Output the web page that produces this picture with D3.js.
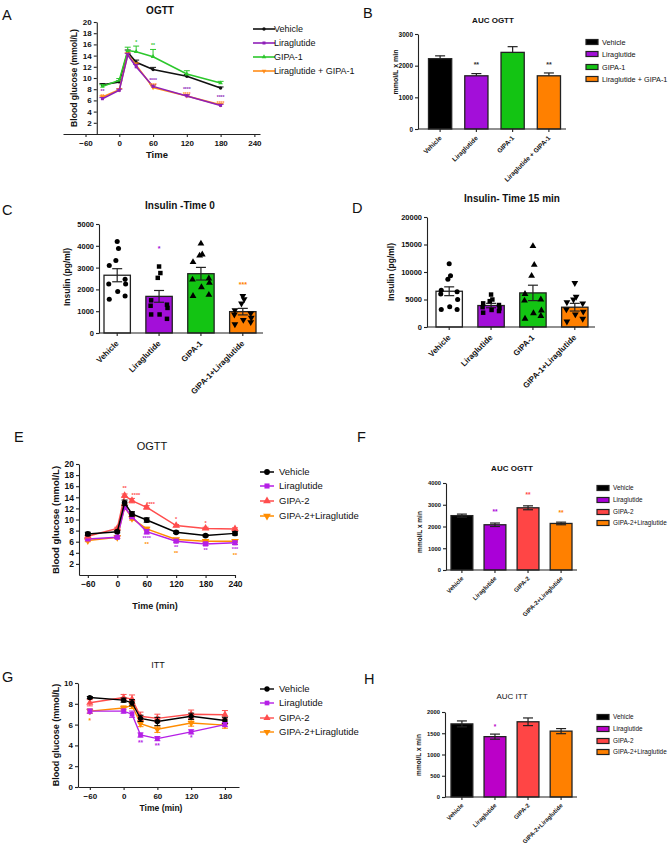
<!DOCTYPE html>
<html>
<head>
<meta charset="utf-8">
<script src="https://cdn.jsdelivr.net/npm/d3@7"></script>
<style>
  body { margin: 0; background: #fff; }
</style>
</head>
<body>
<div id="fig"></div>
<script>
// ---------- data ----------
const groups1 = ['Vehicle', 'Liraglutide', 'GIPA-1', 'Liraglutide + GIPA-1'];
const groups1Insulin = ['Vehicle', 'Liraglutide', 'GIPA-1', 'GIPA-1+Liraglutide'];
const groups2 = ['Vehicle', 'Liraglutide', 'GIPA-2', 'GIPA-2+Liraglutide'];

// A: OGTT (GIPA-1)
const timesA = [-30, 0, 15, 30, 60, 120, 180];
const vehicleA = [8.8, 9.3, 14.6, 12.8, 11.5, 10.3, 8.2];
const liraA = [6.3, 7.8, 14.1, 12.0, 8.5, 6.8, 5.1];
const gipa1A = [8.5, 9.6, 14.9, 14.7, 13.8, 10.7, 9.1];
const comboA = [6.6, 7.9, 14.2, 12.3, 8.3, 6.8, 5.2];
const vehicleSemA = [0.2, 0.2, 0.4, 0.4, 0.4, 0.3, 0.2];
const liraSemA = [0.2, 0.2, 0.3, 0.4, 0.3, 0.2, 0.2];
const gipa1SemA = [0.3, 0.3, 0.6, 1.0, 1.3, 0.6, 0.3];
const comboSemA = [0.2, 0.2, 0.3, 0.4, 0.3, 0.2, 0.2];
const starsA = [
  [1, -30, 7.8, '**'], [3, -30, 6.9, '**'],
  [2, 30, 16.6, '*'], [2, 60, 16.0, '**'],
  [1, 60, 9.9, '****'], [3, 60, 9.0, '****'],
  [1, 120, 8.3, '****'], [3, 120, 7.4, '****'],
  [1, 180, 6.7, '****'], [3, 180, 5.8, '****']
];

// B: AUC OGTT (GIPA-1)
const aucB = [2220, 1680, 2420, 1680];
const aucSemB = [90, 70, 180, 90];
const starsB = [[1, 2050, '**'], [3, 2050, '**']];

// C: insulin time 0
const insulinC = [
  [4200, 3880, 3330, 3100, 2460, 2250, 2250, 1900, 1700, 1550],
  [3050, 2750, 2530, 1500, 1300, 1250, 1150, 850, 650, 850],
  [4100, 3600, 3550, 3250, 2500, 2450, 2300, 2100, 1750, 1700],
  [1700, 1550, 1350, 1050, 900, 850, 700, 600, 500, 400]
];
const meanC = [2650, 1680, 2720, 980];
const semC = [300, 270, 290, 150];
const starsC = [[1, 3900, '*'], [3, 2250, '***']];

// D: insulin time 15 min
const insulinD = [
  [11500, 9300, 8700, 6700, 6400, 6000, 5000, 3700, 3200, 3200],
  [5900, 5000, 4700, 4300, 4000, 3600, 3400, 3100, 2900, 2600],
  [14700, 11300, 9300, 6000, 5000, 4800, 3000, 2500, 2000, 1500],
  [8000, 5500, 5000, 4500, 4300, 3200, 2800, 2300, 1500, 1000]
];
const meanD = [6500, 3900, 6200, 3600];
const semD = [800, 400, 1400, 700];

// E: OGTT (GIPA-2)
const timesE = [-60, 0, 15, 30, 60, 120, 180, 240];
const vehicleE = [7.4, 7.8, 13.0, 11.0, 9.9, 7.7, 7.1, 7.5];
const liraE = [6.5, 6.8, 12.2, 10.5, 7.8, 6.1, 5.6, 5.8];
const gipa2E = [7.0, 8.4, 14.3, 13.4, 12.2, 8.9, 8.4, 8.3];
const comboE = [6.2, 6.8, 12.3, 10.2, 8.3, 6.4, 6.1, 6.1];
const vehicleSemE = [0.3, 0.2, 0.5, 0.4, 0.4, 0.2, 0.2, 0.3];
const liraSemE = [0.2, 0.2, 0.4, 0.3, 0.4, 0.2, 0.3, 0.3];
const gipa2SemE = [0.2, 0.2, 0.3, 0.4, 0.3, 0.2, 0.2, 0.2];
const comboSemE = [0.2, 0.2, 0.3, 0.3, 0.3, 0.2, 0.2, 0.2];
const starsE = [
  [2, 15, 15.8, '**'], [2, 38, 14.6, '****'], [2, 68, 13.0, '****'],
  [2, 120, 10.2, '*'], [2, 180, 9.6, '*'],
  [1, 60, 6.9, '****'], [3, 60, 5.8, '**'],
  [1, 120, 5.2, '**'], [3, 120, 4.1, '**'],
  [1, 180, 4.6, '**'],
  [1, 240, 4.9, '***'], [3, 240, 3.8, '**']
];

// F: AUC OGTT (GIPA-2)
const aucF = [2500, 2080, 2860, 2140];
const aucSemF = [70, 80, 90, 60];
const starsF = [[1, 2700, '**'], [2, 3500, '**'], [3, 2650, '**']];

// G: ITT
const timesG = [-60, 0, 15, 30, 60, 120, 180];
const vehicleG = [8.6, 8.35, 8.1, 6.6, 6.3, 6.8, 6.4];
const liraG = [7.3, 7.3, 7.0, 5.0, 4.65, 5.3, 6.0];
const gipa2G = [8.1, 8.6, 8.45, 6.8, 6.6, 7.0, 6.95];
const comboG = [7.3, 7.6, 7.85, 6.1, 5.55, 6.15, 5.95];
const vehicleSemG = [0.1, 0.2, 0.3, 0.3, 0.4, 0.3, 0.3];
const liraSemG = [0.2, 0.2, 0.3, 0.2, 0.2, 0.2, 0.2];
const gipa2SemG = [0.3, 0.3, 0.4, 0.4, 0.4, 0.4, 0.4];
const comboSemG = [0.2, 0.2, 0.3, 0.3, 0.3, 0.3, 0.3];
const starsG = [
  [1, -60, 7.0, '*'], [3, -60, 6.4, '*'],
  [1, 30, 4.3, '**'], [1, 60, 4.0, '**'], [1, 120, 4.8, '*']
];

// H: AUC ITT
const aucH = [1720, 1420, 1770, 1550];
const aucSemH = [70, 60, 90, 60];
const starsH = [[1, 1680, '*']];

// ---------- styles ----------
const colA = ['#111111', '#8e1fb8', '#2cc72c', '#ff8c1a'];
const colB = ['#000000', '#a30fd9', '#13c413', '#ff8000'];
const colC = ['#ffffff', '#a30fd9', '#13c413', '#ff8000'];
const colE = ['#000000', '#b51fe6', '#ff4d4d', '#ff8c00'];
const colF = ['#000000', '#aa00d8', '#ff4545', '#ff8000'];
const colH = ['#000000', '#bb00c8', '#ff4545', '#ff8000'];
const shapes = ['circle', 'square', 'up', 'down'];
const jitter = [0, 0.05, -0.05, -0.3, 0.3, -0.32, 0.32, 0.02, 0.3, -0.3];

const svg = d3.select('#fig').append('svg')
  .attr('width', 671).attr('height', 849)
  .attr('font-family', "'Liberation Sans', Arial, sans-serif");

const symbols = { circle: d3.symbolCircle, square: d3.symbolSquare, up: d3.symbolTriangle, down: d3.symbolTriangle };
const fmt = d3.format('d');

function marker(g, shape, cx, cy, size, color) {
  g.append('path')
    .attr('d', d3.symbol(symbols[shape], size)())
    .attr('transform', `translate(${cx},${cy})${shape === 'down' ? ' rotate(180)' : ''}`)
    .attr('fill', color);
}

function text(g, x, y, str, size, opts = {}) {
  const t = g.append('text').attr('x', x).attr('y', y).text(str)
    .attr('font-size', size)
    .attr('font-weight', opts.bold ? 'bold' : 'normal')
    .attr('text-anchor', opts.anchor || 'middle')
    .attr('fill', opts.color || '#111');
  if (opts.rotate) t.attr('transform', `rotate(${opts.rotate},${x},${y})`);
  return t;
}

function styleAxis(sel, fs) {
  sel.attr('font-size', fs).attr('font-family', null).attr('font-weight', 'bold');
  sel.select('.domain').attr('stroke', '#222').attr('stroke-width', 1.1);
  sel.selectAll('.tick line').attr('stroke', '#222').attr('stroke-width', 1.1);
  sel.selectAll('.tick text').attr('fill', '#111');
}

function linePanel(o) {
  const g = svg.append('g');
  const x = d3.scaleLinear().domain(o.xDomain).range(o.xRange);
  const y = d3.scaleLinear().domain(o.yDomain).range(o.yRange);

  g.append('g')
    .attr('transform', `translate(0,${o.yRange[0]})`)
    .call(d3.axisBottom(x).tickValues(o.xTicks).tickFormat(fmt).tickSize(3).tickSizeOuter(0).tickPadding(3))
    .call(styleAxis, o.tickFont);
  g.append('g')
    .attr('transform', `translate(${x(o.yAxisAt)},0)`)
    .call(d3.axisLeft(y).tickValues(o.yTicks).tickFormat(fmt).tickSize(3).tickSizeOuter(0).tickPadding(2))
    .call(styleAxis, o.tickFont);

  const line = d3.line().x(d => x(d.t)).y(d => y(d.v));
  o.order.forEach(i => {
    const s = o.series[i];
    const pts = o.times.map((t, k) => ({ t, v: s.values[k], e: s.sem[k] }));
    pts.forEach(p => {
      const top = y(p.v + p.e), bot = o.semBoth ? y(p.v - p.e) : y(p.v);
      g.append('line').attr('x1', x(p.t)).attr('x2', x(p.t)).attr('y1', top).attr('y2', bot)
        .attr('stroke', s.color).attr('stroke-width', 1);
      [top].concat(o.semBoth ? [bot] : []).forEach(yy =>
        g.append('line').attr('x1', x(p.t) - 3).attr('x2', x(p.t) + 3).attr('y1', yy).attr('y2', yy)
          .attr('stroke', s.color).attr('stroke-width', 1));
    });
    g.append('path').datum(pts).attr('d', line).attr('fill', 'none')
      .attr('stroke', s.color).attr('stroke-width', o.lineWidth);
    pts.forEach(p => marker(g, s.shape, x(p.t), y(p.v), o.markerSize, s.color));
  });

  o.stars.forEach(([si, t, v, str]) =>
    text(g, x(t), y(v) + 3, str, o.starFont, { color: o.series[si].color, bold: true }));

  // legend
  o.series.forEach((s, i) => {
    const ly = o.legend.ys[i];
    g.append('line').attr('x1', o.legend.x).attr('x2', o.legend.x + o.legend.len)
      .attr('y1', ly).attr('y2', ly).attr('stroke', s.color).attr('stroke-width', o.lineWidth);
    marker(g, s.shape, o.legend.x + o.legend.len / 2, ly, o.legend.marker, s.color);
    text(g, o.legend.tx, ly + o.legend.font * 0.35, s.name, o.legend.font, { anchor: 'start' });
  });
  return g;
}

function bandAxis(g, x, y0, xStart, xEnd, labels, fs) {
  g.append('line').attr('x1', xStart).attr('x2', xEnd).attr('y1', y0).attr('y2', y0)
    .attr('stroke', '#222').attr('stroke-width', 1.1);
  x.domain().forEach((c, i) => {
    const cx = x(c) + x.bandwidth() / 2;
    g.append('line').attr('x1', cx).attr('x2', cx).attr('y1', y0).attr('y2', y0 + 3)
      .attr('stroke', '#222').attr('stroke-width', 1.1);
    text(g, cx + 2, y0 + fs + 3, labels[i], fs, { anchor: 'end', bold: true, rotate: -45 });
  });
}

function barPanel(o) {
  const g = svg.append('g');
  const x = d3.scaleBand().domain(o.labels).range(o.bandRange).paddingInner(o.pad).paddingOuter(0);
  const y = d3.scaleLinear().domain(o.yDomain).range(o.yRange);
  g.append('g').attr('transform', `translate(${o.axisX[0]},0)`)
    .call(d3.axisLeft(y).tickValues(o.yTicks).tickFormat(fmt).tickSize(3).tickSizeOuter(0).tickPadding(2))
    .call(styleAxis, o.tickFont);

  o.values.forEach((v, i) => {
    const c = o.labels[i];
    const cx = x(c) + x.bandwidth() / 2;
    g.append('rect').attr('x', x(c)).attr('y', y(v)).attr('width', x.bandwidth())
      .attr('height', y(0) - y(v)).attr('fill', o.colors[i]).attr('stroke', '#222').attr('stroke-width', 1.3);
    const top = y(v + o.sem[i]), bot = o.semBoth ? y(v - o.sem[i]) : y(v);
    g.append('line').attr('x1', cx).attr('x2', cx).attr('y1', top).attr('y2', bot)
      .attr('stroke', '#222').attr('stroke-width', 1.2);
    [top].concat(o.semBoth ? [bot] : []).forEach(yy =>
      g.append('line').attr('x1', cx - o.cap).attr('x2', cx + o.cap).attr('y1', yy).attr('y2', yy)
        .attr('stroke', '#222').attr('stroke-width', 1.2));
  });

  if (o.points) {
    o.points.forEach((vals, i) => {
      const c = o.labels[i];
      const cx = x(c) + x.bandwidth() / 2;
      vals.forEach((v, k) =>
        marker(g, shapes[i], cx + jitter[k] * x.bandwidth(), y(v), o.pointSize, '#000'));
    });
  }

  o.stars.forEach(([i, v, str]) => {
    const c = o.labels[i];
    text(g, x(c) + x.bandwidth() / 2, y(v) + 3, str, o.starFont,
      { bold: true, color: o.starColors ? o.starColors[i] : '#333' });
  });

  bandAxis(g, x, o.yRange[0], o.axisX[0], o.axisX[1], o.axisLabels || o.labels, o.catFont);

  if (o.legend) {
    o.labels.forEach((name, i) => {
      const ly = o.legend.ys[i];
      g.append('rect').attr('x', o.legend.x).attr('y', ly - 2.5).attr('width', 12).attr('height', 5)
        .attr('fill', o.colors[i]).attr('stroke', '#222').attr('stroke-width', 1.2);
      text(g, o.legend.x + 16, ly + o.legend.font * 0.35, name, o.legend.font, { anchor: 'start' });
    });
  }
  return g;
}

// ---------- panels ----------
const seriesOf = (names, cols, vals, sems) =>
  names.map((name, i) => ({ name, color: cols[i], shape: shapes[i], values: vals[i], sem: sems[i] }));

// A
linePanel({
  times: timesA, xDomain: [-100, 250], xRange: [63, 260], yDomain: [0, 20], yRange: [134, 22],
  yAxisAt: -40, xTicks: [-60, 0, 60, 120, 180, 240], yTicks: [2, 4, 6, 8, 10, 12, 14, 16, 18, 20],
  series: seriesOf(groups1, colA, [vehicleA, liraA, gipa1A, comboA], [vehicleSemA, liraSemA, gipa1SemA, comboSemA]),
  order: [0, 2, 3, 1], semBoth: false, lineWidth: 1.6, markerSize: 9, tickFont: 8, starFont: 5,
  stars: starsA,
  legend: { x: 253, len: 22, tx: 274, ys: [29, 43, 57, 71], marker: 9, font: 9 }
});
text(svg, 160, 14, 'OGTT', 10, { bold: true });
text(svg, 77, 78, 'Blood glucose (mmol/L)', 8.6, { bold: true, rotate: -90 });
text(svg, 157, 158, 'Time', 9.5, { bold: true });

// B
barPanel({
  labels: groups1, values: aucB, sem: aucSemB, colors: colB, semBoth: false, cap: 5,
  yDomain: [0, 3000], yRange: [129, 34], yTicks: [0, 1000, 2000, 3000], tickFont: 6.5,
  bandRange: [428.5, 560.5], pad: 0.36, axisX: [418, 566], catFont: 6.5,
  stars: starsB, starFont: 7,
  legend: { x: 586, ys: [42, 54, 67, 79], font: 7.3 }
});
text(svg, 493, 23, 'AUC OGTT', 8, { bold: true });
text(svg, 398, 72, 'mmol/L x min', 7, { bold: true, rotate: -90 });

// C
barPanel({
  labels: groups1Insulin, values: meanC, sem: semC, colors: colC, semBoth: true, cap: 5,
  yDomain: [0, 5000], yRange: [333, 224], yTicks: [0, 1000, 2000, 3000, 4000, 5000], tickFont: 7.5,
  bandRange: [104, 256], pad: 0.37, axisX: [99, 263], catFont: 8,
  points: insulinC, pointSize: 20,
  stars: starsC, starFont: 7, starColors: colC
});
text(svg, 180, 209, 'Insulin -Time 0', 10, { bold: true });
text(svg, 70, 277, 'Insulin (pg/ml)', 8.5, { bold: true, rotate: -90 });

// D
barPanel({
  labels: groups1Insulin, values: meanD, sem: semD, colors: colC, semBoth: true, cap: 5,
  yDomain: [0, 20000], yRange: [327, 217], yTicks: [0, 5000, 10000, 15000, 20000], tickFont: 7.5,
  bandRange: [436, 588], pad: 0.37, axisX: [427, 595], catFont: 8,
  points: insulinD, pointSize: 20,
  stars: [], starFont: 7
});
text(svg, 512, 202, 'Insulin- Time 15 min', 10, { bold: true });
text(svg, 394, 272, 'Insulin (pg/ml)', 8.5, { bold: true, rotate: -90 });

// E
linePanel({
  times: timesE, xDomain: [-78, 240], xRange: [79, 235], yDomain: [0, 20], yRange: [575, 464],
  yAxisAt: -78, xTicks: [-60, 0, 60, 120, 180, 240], yTicks: [2, 4, 6, 8, 10, 12, 14, 16, 18, 20],
  series: seriesOf(groups2, colE, [vehicleE, liraE, gipa2E, comboE], [vehicleSemE, liraSemE, gipa2SemE, comboSemE]),
  order: [3, 1, 2, 0], semBoth: true, lineWidth: 1.5, markerSize: 26, tickFont: 8.5, starFont: 5.5,
  stars: starsE,
  legend: { x: 260, len: 14, tx: 279, ys: [472, 486, 501, 516], marker: 26, font: 9.5 }
});
text(svg, 152, 450, 'OGTT', 11);
text(svg, 59, 520, 'Blood glucose (mmol/L)', 9.5, { bold: true, rotate: -90 });
text(svg, 155, 609, 'Time (min)', 9, { bold: true });

// F
barPanel({
  labels: groups2, values: aucF, sem: aucSemF, colors: colF, semBoth: true, cap: 5,
  yDomain: [0, 4000], yRange: [570, 483], yTicks: [0, 1000, 2000, 3000, 4000], tickFont: 5.8,
  bandRange: [451, 572], pad: 0.34, axisX: [446, 577], catFont: 6,
  stars: starsF, starFont: 6.5, starColors: colF,
  legend: { x: 597, ys: [488, 500, 512, 523], font: 6.4 }
});
text(svg, 512, 471, 'AUC OGTT', 8, { bold: true });
text(svg, 422, 532, 'mmol/L x min', 6.5, { bold: true, rotate: -90 });

// G
linePanel({
  times: timesG, xDomain: [-81, 205], xRange: [78, 239], yDomain: [0, 10], yRange: [787, 683],
  yAxisAt: -81, xTicks: [-60, 0, 60, 120, 180], yTicks: [0, 2, 4, 6, 8, 10],
  series: seriesOf(groups2, colE, [vehicleG, liraG, gipa2G, comboG], [vehicleSemG, liraSemG, gipa2SemG, comboSemG]),
  order: [3, 2, 0, 1], semBoth: true, lineWidth: 1.4, markerSize: 22, tickFont: 8, starFont: 6.5,
  stars: starsG,
  legend: { x: 260, len: 14, tx: 279, ys: [689, 703, 718, 732], marker: 22, font: 9.5 }
});
text(svg, 158, 668, 'ITT', 9);
text(svg, 59, 735, 'Blood glucose (mmol/L)', 9, { bold: true, rotate: -90 });
text(svg, 161, 811, 'Time (min)', 8.5, { bold: true });

// H
barPanel({
  labels: groups2, values: aucH, sem: aucSemH, colors: colH, semBoth: true, cap: 5,
  yDomain: [0, 2000], yRange: [797, 712], yTicks: [0, 500, 1000, 1500, 2000], tickFont: 5.8,
  bandRange: [451, 572], pad: 0.34, axisX: [445, 577], catFont: 6,
  stars: starsH, starFont: 6.5, starColors: colH,
  legend: { x: 597, ys: [717, 729, 741, 752], font: 6.4 }
});
text(svg, 512, 699, 'AUC ITT', 8);
text(svg, 421, 755, 'mmol/L x min', 6.5, { bold: true, rotate: -90 });

// panel letters
[['A', 2, 20], ['B', 363, 18], ['C', 2, 215], ['D', 352, 213],
 ['E', 14, 442], ['F', 357, 442], ['G', 2, 682], ['H', 364, 684]]
  .forEach(([l, x, y]) => text(svg, x, y, l, 14.5, { anchor: 'start' }));
</script>
</body>
</html>
